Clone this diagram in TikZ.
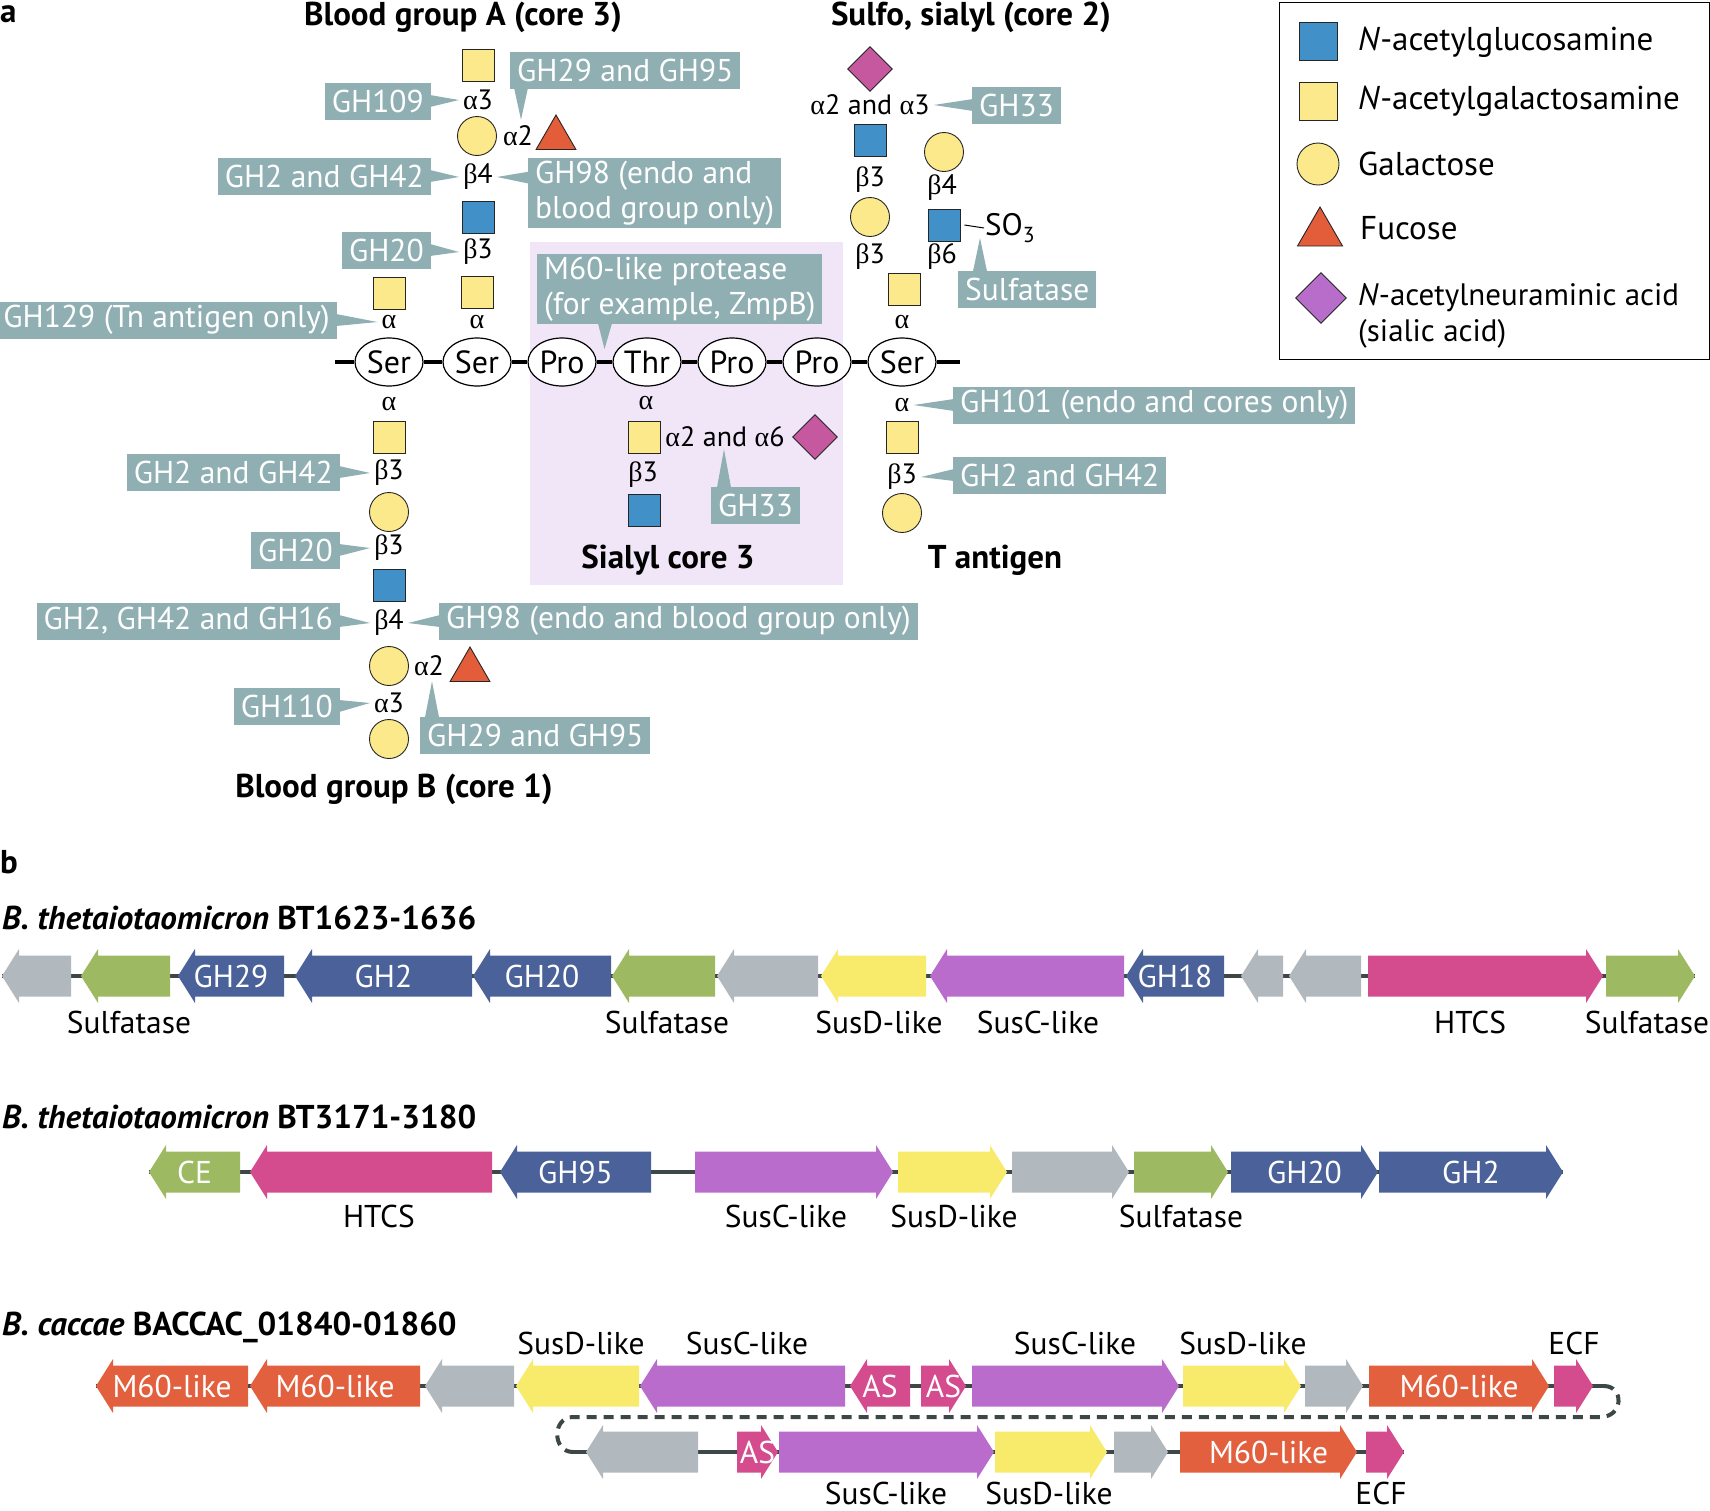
\documentclass[tikz,border=0pt]{standalone}
\usepackage{fontspec}
\setmainfont{PT Sans}
\newfontfamily\grkfont{Liberation Serif}
\usepackage{tikz}
\usetikzlibrary{shapes.geometric,calc}

\definecolor{tealbox}{HTML}{8FAFB3}
\definecolor{glcblue}{HTML}{4290C8}
\definecolor{galyel}{HTML}{FBE98C}
\definecolor{fucred}{HTML}{E35D3A}
\definecolor{siapink}{HTML}{C6589F}
\definecolor{siapurp}{HTML}{B86DCB}
\definecolor{lavbg}{HTML}{F1E5F8}
\definecolor{ggray}{HTML}{B1B9BF}
\definecolor{ggreen}{HTML}{9DBA62}
\definecolor{gblue}{HTML}{4A6199}
\definecolor{gyellow}{HTML}{F8EB6B}
\definecolor{gpurple}{HTML}{B96CCC}
\definecolor{gmag}{HTML}{D44C8D}
\definecolor{gorange}{HTML}{E3603F}
\definecolor{glinec}{HTML}{3D4747}

\newcommand{\ga}{{\grkfont α}}
\newcommand{\gb}{{\grkfont β}}
% callout wedge: base point, tip, base point
\newcommand{\ptr}[3]{\fill[tealbox] (#1) -- (#2) -- (#3) -- cycle;}
% gene arrows: name, x from, x to, y, colour, text
\newcommand{\geneR}[6]{%
  \fill[#5] (#2,#4-20.5) -- (#3-17,#4-20.5) -- (#3-17,#4-27) -- (#3,#4) -- (#3-17,#4+27) -- (#3-17,#4+20.5) -- (#2,#4+20.5) -- cycle;
  \node[genetxt] (#1) at ({(#2+#3)/2},#4) {#6};}
\newcommand{\geneL}[6]{%
  \fill[#5] (#3,#4-20.5) -- (#2+17,#4-20.5) -- (#2+17,#4-27) -- (#2,#4) -- (#2+17,#4+27) -- (#2+17,#4+20.5) -- (#3,#4+20.5) -- cycle;
  \node[genetxt] (#1) at ({(#2+#3)/2},#4) {#6};}

\begin{document}
\begin{tikzpicture}[x=1pt,y=-1pt,
  lab/.style={fill=tealbox,text=white,font=\fontsize{31.5}{35}\selectfont,inner xsep=7,inner ysep=2,minimum height=37},
  lnk/.style={font=\fontsize{28}{30}\selectfont,inner sep=1},
  ttl/.style={font=\bfseries\fontsize{33}{36}\selectfont,inner sep=0},
  aa/.style={ellipse,draw,line width=1.2,fill=white,minimum width=68,minimum height=48,inner sep=0,font=\fontsize{32}{34}\selectfont},
  sq/.style={rectangle,draw=black!85,line width=0.9,minimum size=32,inner sep=0},
  glcnac/.style={sq,fill=glcblue},
  galnac/.style={sq,fill=galyel},
  gal/.style={circle,draw=black!85,line width=0.9,fill=galyel,minimum size=39,inner sep=0},
  fuc/.style={regular polygon,regular polygon sides=3,draw=black!85,line width=0.9,fill=fucred,minimum size=46,inner sep=0},
  sia/.style={diamond,draw=black!85,line width=0.9,fill=siapink,minimum width=45,minimum height=45,inner sep=0},
  key/.style={font=\fontsize{33}{36}\selectfont,inner sep=0,anchor=west,align=left},
  genetxt/.style={text=white,font=\fontsize{31.5}{34}\selectfont,inner sep=0},
  gname/.style={font=\fontsize{31.5}{34}\selectfont,inner sep=0},
  gl/.style={glinec,line width=3.5}
]
\useasboundingbox (0,0) rectangle (1710,1510);

% ---------- panel a ----------
\node[ttl,anchor=west] (pa) at (0,14) {a};
\node[ttl] (ttlA) at (463,17) {Blood group A (core 3)};
\node[ttl] (ttlS) at (971,17) {Sulfo, sialyl (core 2)};

\node[fill=lavbg,minimum width=313,minimum height=343,anchor=north west,inner sep=0] (sc3bg) at (530,242) {};

% peptide backbone
\node[aa] (s1) at (389,362) {Ser};
\node[aa] (s2) at (477,362) {Ser};
\node[aa] (s3) at (562,362) {Pro};
\node[aa] (s4) at (647,362) {Thr};
\node[aa] (s5) at (732,362) {Pro};
\node[aa] (s6) at (817,362) {Pro};
\node[aa] (s7) at (902,362) {Ser};
\coordinate (bbL) at (335,362);
\coordinate (bbR) at (960,362);
\draw[line width=4] (bbL) -- (s1) -- (s2) -- (s3) -- (s4) -- (s5) -- (s6) -- (s7) -- (bbR);

% Tn antigen
\node[galnac] (tnGalNAc) at (389,293) {};
\node[lnk] (tnA) at (389,322) {\ga};
\node[lab,anchor=east] (lGH129) at (337,320) {GH129 (Tn antigen only)};
\ptr{$(lGH129.east)+(-1,-6)$}{$(tnA.west)+(-3,0)$}{$(lGH129.east)+(-1,6)$}

% blood group A (core 3)
\node[galnac] (aGalNAc) at (477,292) {};
\node[lnk] (aA1) at (477,322) {\ga};
\node[lnk] (aB3) at (478,252) {\gb3};
\node[glcnac] (aGlcNAc) at (478,217) {};
\node[lnk] (aB4) at (478,177) {\gb4};
\node[gal] (aGal) at (477,136) {};
\node[lnk] (aA2) at (518,136) {\ga2};
\node[fuc] (aFuc) at (556,138) {};
\node[lnk] (aA3) at (478,100) {\ga3};
\node[galnac] (aGalNAc2) at (478,65) {};

\node[lab,anchor=east] (lGH109) at (431,101) {GH109};
\node[lab,anchor=east] (lGH2a) at (431,176) {GH2 and GH42};
\node[lab,anchor=east] (lGH20a) at (431,250) {GH20};
\node[lab,anchor=west] (lGH29a) at (510,70) {GH29 and GH95};
\node[lab,anchor=west,align=left,inner ysep=3] (lGH98a) at (528,193) {GH98 (endo and\\blood group only)};
\ptr{$(lGH109.east)+(-1,-6)$}{$(aA3.west)+(-3,0)$}{$(lGH109.east)+(-1,6)$}
\ptr{$(lGH2a.east)+(-1,-6)$}{$(aB4.west)+(-3,0)$}{$(lGH2a.east)+(-1,6)$}
\ptr{$(lGH20a.east)+(-1,-6)$}{$(aB3.west)+(-3,0)$}{$(lGH20a.east)+(-1,6)$}
\ptr{$(lGH29a.south west)+(4,-1)$}{$(aA2.north)+(3,-5)$}{$(lGH29a.south west)+(18,-1)$}
\ptr{$(lGH98a.north west)+(1,14)$}{$(aB4.east)+(3,0)$}{$(lGH98a.north west)+(1,26)$}

% sulfo, sialyl (core 2)
\node[galnac] (cGalNAc) at (904,289) {};
\node[lnk] (cA) at (902,322) {\ga};
\node[lnk] (cB3a) at (870,257) {\gb3};
\node[gal] (cGal1) at (870,217) {};
\node[lnk] (cB3b) at (870,180) {\gb3};
\node[glcnac] (cGlcNAc1) at (870,140) {};
\node[lnk] (cA23) at (870,105) {\ga2 and \ga3};
\node[sia] (cSia) at (870,69) {};
\node[lnk] (cB6) at (942,257) {\gb6};
\node[glcnac] (cGlcNAc2) at (944,225) {};
\node[lnk] (cB4) at (942,188) {\gb4};
\node[gal] (cGal2) at (944,152) {};
\node[lnk,anchor=west,font=\fontsize{31}{32}\selectfont] (so3) at (984,228) {SO\textsubscript{3}};
\draw[line width=1] ([xshift=4]cGlcNAc2.east) -- (so3.west);
\coordinate (sulftip) at (980,238);

\node[lab,anchor=west] (lGH33a) at (972,105) {GH33};
\node[lab,anchor=west] (lSulf) at (958,289) {Sulfatase};
\ptr{$(lGH33a.west)+(1,-6)$}{$(cA23.east)+(3,0)$}{$(lGH33a.west)+(1,6)$}
\ptr{$(lSulf.north west)+(15,1)$}{sulftip}{$(lSulf.north west)+(29,1)$}

% M60-like protease
\node[lab,anchor=west,align=left,inner ysep=3] (lM60) at (537,289) {M60-like protease\\(for example, ZmpB)};
\coordinate (m60tip) at ($(s3)!0.5!(s4)+(0,-13)$);
\ptr{$(lM60.south west)+(61,-1)$}{m60tip}{$(lM60.south west)+(75,-1)$}

% sialyl core 3
\node[lnk] (sA) at (646,403) {\ga};
\node[galnac] (sGalNAc) at (644,437) {};
\node[lnk] (sA26) at (725,437) {\ga2 and \ga6};
\node[sia] (sSia) at (815,437) {};
\node[lnk] (sB3) at (643,475) {\gb3};
\node[glcnac] (sGlcNAc) at (644,510) {};
\node[lab,anchor=west] (lGH33b) at (711,505) {GH33};
\ptr{$(lGH33b.north west)+(6,1)$}{$(sA26.south)+(-1,1)$}{$(lGH33b.north west)+(20,1)$}
\node[ttl] (ttlSc3) at (668,560) {Sialyl core 3};

% T antigen
\node[lnk] (tA) at (902,405) {\ga};
\node[galnac] (tGalNAc) at (902,437) {};
\node[lnk] (tB3) at (902,477) {\gb3};
\node[gal] (tGal) at (902,513) {};
\node[lab,anchor=west] (lGH101) at (953,405) {GH101 (endo and cores only)};
\node[lab,anchor=west] (lGH2t) at (953,475) {GH2 and GH42};
\ptr{$(lGH101.west)+(1,-6)$}{$(tA.east)+(3,0)$}{$(lGH101.west)+(1,6)$}
\ptr{$(lGH2t.west)+(1,-6)$}{$(tB3.east)+(3,0)$}{$(lGH2t.west)+(1,6)$}
\node[ttl] (ttlT) at (995,560) {T antigen};

% blood group B (core 1)
\node[lnk] (bA) at (389,404) {\ga};
\node[galnac] (bGalNAc) at (389,437) {};
\node[lnk] (bB3a) at (389,473) {\gb3};
\node[gal] (bGal1) at (389,512) {};
\node[lnk] (bB3b) at (389,548) {\gb3};
\node[glcnac] (bGlcNAc) at (389,585) {};
\node[lnk] (bB4) at (389,623) {\gb4};
\node[gal] (bGal2) at (389,666) {};
\node[lnk] (bA2) at (429,666) {\ga2};
\node[fuc] (bFuc) at (470,670) {};
\node[lnk] (bA3) at (389,703) {\ga3};
\node[gal] (bGal3) at (389,739) {};

\node[lab,anchor=east] (lGH2b) at (340,472) {GH2 and GH42};
\node[lab,anchor=east] (lGH20b) at (340,550) {GH20};
\node[lab,anchor=east] (lGH16) at (340,621) {GH2, GH42 and GH16};
\node[lab,anchor=west] (lGH98b) at (439,621) {GH98 (endo and blood group only)};
\node[lab,anchor=east] (lGH110) at (340,706) {GH110};
\node[lab,anchor=west] (lGH29b) at (420,735) {GH29 and GH95};
\ptr{$(lGH2b.east)+(-1,-6)$}{$(bB3a.west)+(-3,0)$}{$(lGH2b.east)+(-1,6)$}
\ptr{$(lGH20b.east)+(-1,-6)$}{$(bB3b.west)+(-3,0)$}{$(lGH20b.east)+(-1,6)$}
\ptr{$(lGH16.east)+(-1,-6)$}{$(bB4.west)+(-3,0)$}{$(lGH16.east)+(-1,6)$}
\ptr{$(lGH98b.west)+(1,-6)$}{$(bB4.east)+(3,0)$}{$(lGH98b.west)+(1,6)$}
\ptr{$(lGH110.east)+(-1,-6)$}{$(bA3.west)+(-3,0)$}{$(lGH110.east)+(-1,6)$}
\ptr{$(lGH29b.north west)+(5,1)$}{$(bA2.south)+(3,4)$}{$(lGH29b.north west)+(19,1)$}
\node[ttl] (ttlB) at (394,789) {Blood group B (core 1)};

% legend
\node[draw,line width=1.2,minimum width=430,minimum height=357,anchor=north west,inner sep=0] (legend) at (1279,1.5) {};
\node[glcnac,minimum size=38] (kGlcNAc) at (1318,41) {};
\node[galnac,minimum size=38] (kGalNAc) at (1318,101) {};
\node[gal,minimum size=42] (kGal) at (1318,164) {};
\node[fuc,minimum size=52] (kFuc) at (1320,233) {};
\node[sia,fill=siapurp,minimum width=51,minimum height=51] (kSia) at (1321,298) {};
\node[key] (kt1) at (1358,42) {\textit{N}-acetylglucosamine};
\node[key] (kt2) at (1358,101) {\textit{N}-acetylgalactosamine};
\node[key] (kt3) at (1358,164) {Galactose};
\node[key] (kt4) at (1360,228) {Fucose};
\node[key,font=\fontsize{31}{36}\selectfont] (kt5) at (1358,316) {\textit{N}-acetylneuraminic acid\\(sialic acid)};

% ---------- panel b ----------
\node[ttl,anchor=west] (pb) at (0,862) {b};

% BT1623-1636
\node[ttl,anchor=west] (t1) at (2,918) {\textit{B. thetaiotaomicron} BT1623-1636};
\coordinate (ln1a) at (2,976);
\coordinate (ln1b) at (1695,976);
\draw[gl] (ln1a) -- (ln1b);
\geneL{r1a}{2}{71}{976}{ggray}{}
\geneL{r1b}{81}{170}{976}{ggreen}{}
\geneL{r1c}{178}{284}{976}{gblue}{GH29}
\geneL{r1d}{295}{472}{976}{gblue}{GH2}
\geneL{r1e}{473}{611}{976}{gblue}{GH20}
\geneL{r1f}{612}{715}{976}{ggreen}{}
\geneL{r1g}{717}{818}{976}{ggray}{}
\geneL{r1h}{821}{926}{976}{gyellow}{}
\geneL{r1i}{930}{1124}{976}{gpurple}{}
\geneL{r1j}{1126}{1224}{976}{gblue}{GH18}
\geneL{r1k}{1241}{1283}{976}{ggray}{}
\geneL{r1l}{1289}{1361}{976}{ggray}{}
\geneR{r1m}{1368}{1603}{976}{gmag}{}
\geneR{r1n}{1606}{1695}{976}{ggreen}{}
\node[gname] (n1a) at (129,1022) {Sulfatase};
\node[gname] (n1b) at (667,1022) {Sulfatase};
\node[gname] (n1c) at (879,1022) {SusD-like};
\node[gname] (n1d) at (1038,1022) {SusC-like};
\node[gname] (n1e) at (1470,1022) {HTCS};
\node[gname] (n1f) at (1647,1022) {Sulfatase};

% BT3171-3180
\node[ttl,anchor=west] (t2) at (2,1117) {\textit{B. thetaiotaomicron} BT3171-3180};
\coordinate (ln2a) at (149,1172);
\coordinate (ln2b) at (1563,1172);
\draw[gl] (ln2a) -- (ln2b);
\geneL{r2a}{149}{240}{1172}{ggreen}{CE}
\geneL{r2b}{250}{492}{1172}{gmag}{}
\geneL{r2c}{500}{651}{1172}{gblue}{GH95}
\geneR{r2d}{695}{893}{1172}{gpurple}{}
\geneR{r2e}{898}{1007}{1172}{gyellow}{}
\geneR{r2f}{1012}{1129}{1172}{ggray}{}
\geneR{r2g}{1134}{1228}{1172}{ggreen}{}
\geneR{r2h}{1231}{1378}{1172}{gblue}{GH20}
\geneR{r2i}{1379}{1563}{1172}{gblue}{GH2}
\node[gname] (n2a) at (379,1216) {HTCS};
\node[gname] (n2b) at (786,1216) {SusC-like};
\node[gname] (n2c) at (954,1216) {SusD-like};
\node[gname] (n2d) at (1181,1216) {Sulfatase};

% BACCAC_01840-01860
\node[ttl,anchor=west] (t3) at (2,1327) {\textit{B. caccae} BACCAC\_01840-01860};
\coordinate (ln3a) at (96,1386);
\coordinate (ln3b) at (1604,1386);
\coordinate (ln3c) at (573,1452);
\coordinate (ln3d) at (1404,1452);
\draw[gl] (ln3a) -- (ln3b);
\draw[gl] (ln3c) -- (ln3d);
\draw[gl,line width=4,dash pattern=on 10 off 7] (ln3b) .. controls (1624,1386) and (1624,1417) .. (1600,1417) -- (573,1417) .. controls (552,1417) and (552,1452) .. (ln3c);
\geneL{r3a}{96}{248}{1386}{gorange}{M60-like}
\geneL{r3b}{250}{420}{1386}{gorange}{M60-like}
\geneL{r3c}{425}{514}{1386}{ggray}{}
\geneL{r3d}{516}{639}{1386}{gyellow}{}
\geneL{r3e}{640}{845}{1386}{gpurple}{}
\geneL{r3f}{850}{910}{1386}{gmag}{AS}
\geneR{r3g}{921}{966}{1386}{gmag}{AS}
\geneR{r3h}{972}{1179}{1386}{gpurple}{}
\geneR{r3i}{1183}{1301}{1386}{gyellow}{}
\geneR{r3j}{1305}{1363}{1386}{ggray}{}
\geneR{r3k}{1369}{1549}{1386}{gorange}{M60-like}
\geneR{r3l}{1554}{1593}{1386}{gmag}{}
\geneL{r3m}{586}{698}{1452}{ggray}{}
\geneR{r3n}{737}{778}{1452}{gmag}{AS}
\geneR{r3o}{779}{994}{1452}{gpurple}{}
\geneR{r3p}{995}{1107}{1452}{gyellow}{}
\geneR{r3q}{1114}{1168}{1452}{ggray}{}
\geneR{r3r}{1180}{1357}{1452}{gorange}{M60-like}
\geneR{r3s}{1366}{1404}{1452}{gmag}{}
\node[gname] (n3a) at (581,1343) {SusD-like};
\node[gname] (n3b) at (747,1343) {SusC-like};
\node[gname] (n3c) at (1075,1343) {SusC-like};
\node[gname] (n3d) at (1243,1343) {SusD-like};
\node[gname] (n3e) at (1574,1343) {ECF};
\node[gname] (n3f) at (886,1493) {SusC-like};
\node[gname] (n3g) at (1049,1493) {SusD-like};
\node[gname] (n3h) at (1381,1493) {ECF};
\end{tikzpicture}
\end{document}
